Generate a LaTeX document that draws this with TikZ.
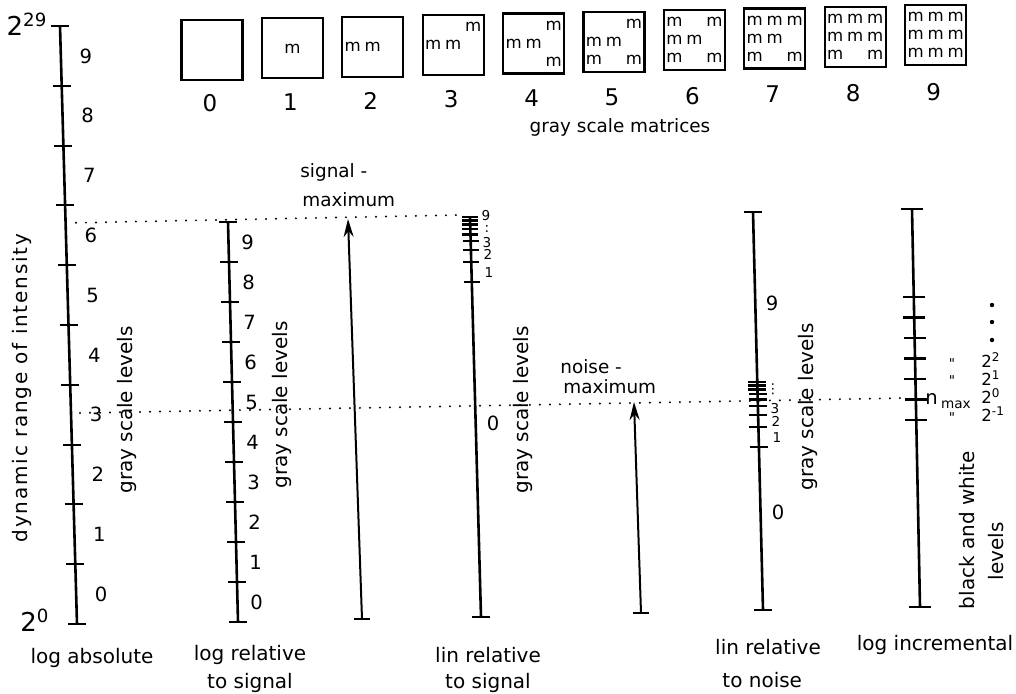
\documentclass[tikz,border=0pt]{standalone}
\usepackage{fontspec}
\setsansfont{DejaVu Sans}
\newfontfamily\widefont[LetterSpace=9]{DejaVu Sans}
\usetikzlibrary{arrows.meta,calc,positioning}

\newcommand{\lblfont}{\fontsize{10}{12}\selectfont\sffamily}
\newcommand{\smlfont}{\fontsize{9.2}{11}\selectfont\sffamily}
\newcommand{\lvlfont}{\fontsize{9.8}{12}\selectfont\sffamily}
\newcommand{\tinyfont}{\fontsize{6.8}{7}\selectfont\sffamily}
\newcommand{\supfont}{\fontsize{6}{6}\selectfont\sffamily}

\tikzset{
  axis/.style={line width=1.3pt},
  tickmark/.style={line width=1.05pt},
  dotline/.style={line width=1.1pt, line cap=round, dash pattern=on 0pt off 5pt},
  maxarrow/.style={line width=1pt, -{Stealth[length=9pt,width=5pt]}},
  lvl/.style={font=\lvlfont, inner sep=0pt},
  lbl/.style={font=\lblfont, inner sep=0pt},
  sml/.style={font=\smlfont, inner sep=0pt},
  vlbl/.style={font=\lblfont, inner sep=0pt, rotate=90},
  tinylbl/.style={font=\tinyfont, inner sep=0pt},
  powlbl/.style={font=\fontsize{8.3}{9}\selectfont\sffamily, inner sep=0pt, anchor=base west},
  matbox/.style={draw, line width=1.1pt, minimum width=30.5pt, minimum height=30pt, inner sep=0pt},
  mm/.style={font=\fontsize{8.3}{9}\selectfont\sffamily, inner sep=0pt},
}

\begin{document}
\begin{tikzpicture}[x=0.5pt,y=-0.5pt]
  \useasboundingbox (0,0) rectangle (1016,693);

  % gray scale matrices
  \foreach \i in {0,...,9} {
    \node[matbox] (mat\i) at ({212+80.4*\i},{50-1.65*\i}) {};
    \node[lvl, font=\fontsize{11.5}{12}\selectfont\sffamily] (matnum\i) at ({210+80.4*\i},{103-1.2*\i}) {\i};
  }
  \foreach \i/\cells in {
      1/{0/0},
      2/{-1/0,0/0},
      3/{-1/0,0/0,1/-1},
      4/{-1/0,0/0,1/-1,1/1},
      5/{1/-1,-1/0,0/0,-1/1,1/1},
      6/{-1/-1,1/-1,-1/0,0/0,-1/1,1/1},
      7/{-1/-1,0/-1,1/-1,-1/0,0/0,-1/1,1/1},
      8/{-1/-1,0/-1,1/-1,-1/0,0/0,1/0,-1/1,1/1},
      9/{-1/-1,0/-1,1/-1,-1/0,0/0,1/0,-1/1,0/1,1/1}}
    \foreach \cx/\cy in \cells
      \node[mm] at ($(mat\i)+(20*\cx,18*\cy)$) {m};
  \node[sml] (matcap) at (620,127) {gray scale matrices};

  % axes
  \coordinate (top1) at (60,26);   \coordinate (bot1) at (77,624);
  \coordinate (top2) at (228,222); \coordinate (bot2) at (238,622);
  \coordinate (top3) at (470,217); \coordinate (bot3) at (481,617);
  \coordinate (top4) at (753,212); \coordinate (bot4) at (763,610);
  \coordinate (top5) at (912,209); \coordinate (bot5) at (920,607);
  \foreach \a in {1,...,5}
    \draw[axis] (top\a) -- (bot\a);

  % log scales
  \foreach \a/\dx in {1/25,2/19} {
    \foreach \i in {0,...,10}
      \draw[tickmark] ($(top\a)!\i/10!(bot\a)$) +(-9,0) -- +(9,0);
    \foreach \i in {0,...,9}
      \path ($(top\a)!{(9.5-\i)/10}!(bot\a)$) ++(\dx,0) node[lvl] {\i};
  }
  \node[lbl] (exptop) at (27,24) {\fontsize{13}{14}\selectfont 2\textsuperscript{29}};
  \node[lbl] (expbot) at (35,620) {\fontsize{13}{14}\selectfont 2\textsuperscript{0}};

  % lin relative to signal
  \foreach \k in {1,...,9}
    \draw[tickmark] ($(top3)!{(20.6*ln(9/\k)/ln(2))/400}!(bot3)$) +(-8,0) -- +(8,0);
  \draw[tickmark] (bot3) +(-9,0) -- +(9,0);
  \node[tinylbl] at (486,216) {9};
  \node[tinylbl] at (487,229) {:};
  \node[tinylbl] at (487,243) {3};
  \node[tinylbl] at (488,254) {2};
  \node[tinylbl] at (489,273) {1};
  \node[lvl] at (493,423) {0};

  % lin relative to noise
  \foreach \k in {1,...,9}
    \draw[tickmark] ($(top4)!{(170+20.6*ln(9/\k)/ln(2))/398}!(bot4)$) +(-9,0) -- +(9,0);
  \draw[tickmark] (top4) +(-9,0) -- +(9,0);
  \draw[tickmark] (bot4) +(-9,0) -- +(9,0);
  \node[tinylbl] at (773,389) {⋮};
  \node[tinylbl] at (775,409) {3};
  \node[tinylbl] at (776,421) {2};
  \node[tinylbl] at (777,438) {1};
  \node[lvl] at (772,303) {9};
  \node[lvl] at (778,512) {0};

  % log incremental
  \foreach \j in {0,...,6}
    \draw[tickmark] ($(top5)!{(88+20.5*\j)/398}!(bot5)$) +(-11,0) -- +(11,0);
  \draw[tickmark] (top5) +(-11,0) -- +(11,0);
  \draw[tickmark] (bot5) +(-11,0) -- +(11,0);
  \foreach \y in {305,322,340}
    \fill (992,\y) circle (1.1pt);
  \foreach \e/\y in {2/367,1/385,0/403,-1/421}
    \node[powlbl] at (981,\y) {2\raisebox{2.6pt}{\supfont\e}};
  \foreach \y in {364,381,418}
    \node[tinylbl] at (952,\y) {\textquotedbl};
  \node[lvl] (nmax) at (948,401) {n\,\raisebox{-2pt}{\tinyfont max}};

  % maxima
  \coordinate (sigb) at (362,619); \coordinate (sigt) at (348,219);
  \coordinate (noib) at (641,613); \coordinate (noit) at (634,402);
  \draw[maxarrow] (sigb) -- (sigt);
  \draw[maxarrow] (noib) -- (noit);
  \draw[tickmark] (sigb) +(-8,0) -- +(8,0);
  \draw[tickmark] (noib) +(-8,0) -- +(8,0);
  \node[sml, anchor=west] at (300,172) {signal -};
  \node[sml, anchor=west] at (302,200) {maximum};
  \node[sml, anchor=west] at (560,367) {noise -};
  \node[sml, anchor=west] at (563,387) {maximum};

  \coordinate (smaxL) at (66,223); \coordinate (smaxR) at (460,215);
  \coordinate (nmaxL) at (80,413); \coordinate (nmaxR) at (906,398);
  \draw[dotline] (smaxL) -- (smaxR);
  \draw[dotline] (nmaxL) -- (nmaxR);

  % axis captions
  \node[vlbl, font=\fontsize{10}{12}\selectfont\widefont] at (22,388) {dynamic range of intensity};
  \node[vlbl] at (127,410) {gray scale levels};
  \node[vlbl] at (282,405) {gray scale levels};
  \node[vlbl] at (523,410) {gray scale levels};
  \node[vlbl] at (808,407) {gray scale levels};
  \node[vlbl] at (967,530) {black and white};
  \node[vlbl] at (996,551) {levels};

  \node[lbl] at (92,658) {log absolute};
  \node[lbl] at (250,655) {log relative};
  \node[lbl] at (250,683) {to signal};
  \node[lbl] at (488,655) {lin relative};
  \node[lbl] at (488,683) {to signal};
  \node[lbl] at (768,647) {lin relative};
  \node[lbl, anchor=west] at (722,680) {to noise};
  \node[lbl] at (935,645) {log incremental};
\end{tikzpicture}
\end{document}
